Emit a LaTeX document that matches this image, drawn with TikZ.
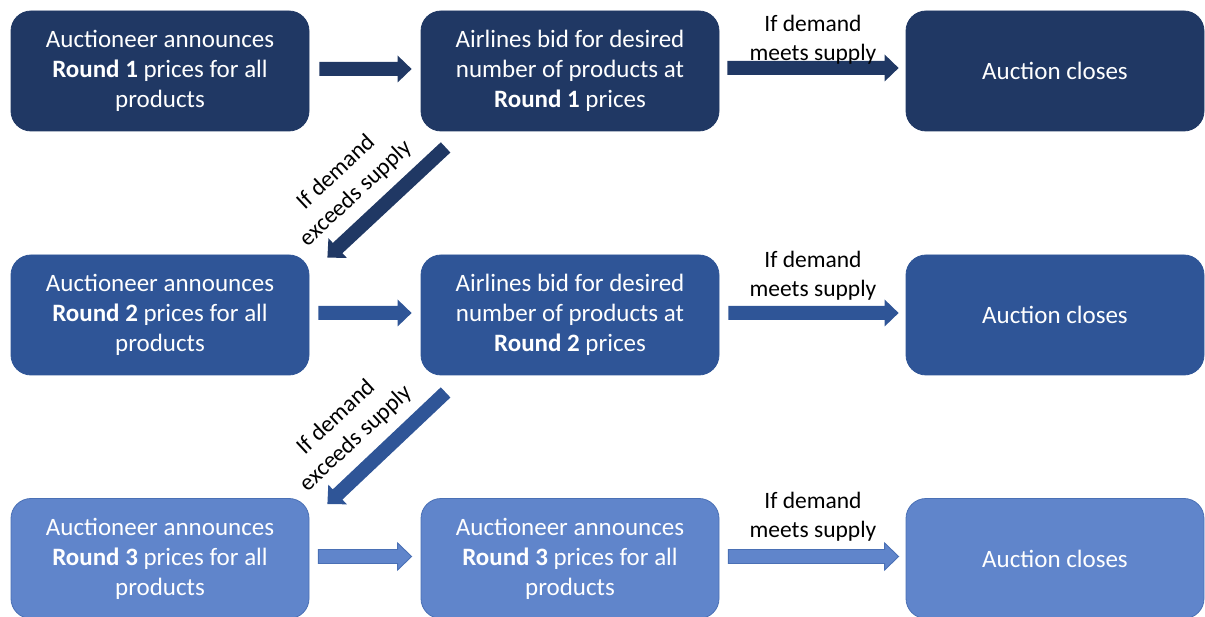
\documentclass[tikz,border=0pt]{standalone}
\usepackage{fontspec}
\setmainfont{Carlito}
\usetikzlibrary{calc}

\definecolor{navy}{HTML}{203864}
\definecolor{midblue}{HTML}{2F5597}
\definecolor{lightblue}{HTML}{6085CB}
\definecolor{lightedge}{HTML}{4A70B5}

% Block arrow from coordinate #2 to coordinate #3 (shaft 14pt, head 27pt wide, 14pt long)
\newcommand\blockarrow[3][]{%
  \coordinate (hb) at ($(#3)!14pt!(#2)$);
  \path[#1] ($(#2)!7pt!90:(#3)$) -- ($(hb)!7pt!-90:(#2)$) -- ($(hb)!13.5pt!-90:(#2)$)
    -- (#3) -- ($(hb)!13.5pt!90:(#2)$) -- ($(hb)!7pt!90:(#2)$)
    -- ($(#2)!7pt!-90:(#3)$) -- cycle;}

\begin{document}
\begin{tikzpicture}[x=1pt,y=1pt,
  box/.style={rounded corners=20pt, minimum width=298pt, minimum height=120pt,
    align=center, text=white, inner sep=0pt, line width=0.8pt,
    font=\fontsize{25}{30}\selectfont},
  lbl/.style={align=center, text=black, inner sep=0pt,
    font=\fontsize{23.5}{29}\selectfont},
  darkarrow/.style={fill=navy},
  midarrow/.style={fill=midblue},
  lightarrow/.style={fill=lightblue, draw=lightedge, line width=0.9pt}]
\useasboundingbox (0,0) rectangle (1205,-617);

% Round 1
\node[box, fill=navy, draw=navy] (a1) at (160,-71) {Auctioneer announces\\\textbf{Round 1} prices for all\\products};
\node[box, fill=navy, draw=navy] (b1) at (570,-71) {Airlines bid for desired\\number of products at\\\textbf{Round 1} prices};
\node[box, fill=navy, draw=navy] (c1) at (1055,-71) {Auction closes};

% Round 2
\node[box, fill=midblue, draw=midblue] (a2) at (160,-315) {Auctioneer announces\\\textbf{Round 2} prices for all\\products};
\node[box, fill=midblue, draw=midblue] (b2) at (570,-315) {Airlines bid for desired\\number of products at\\\textbf{Round 2} prices};
\node[box, fill=midblue, draw=midblue] (c2) at (1055,-315) {Auction closes};

% Round 3
\node[box, fill=lightblue, draw=lightedge] (a3) at (160,-558.5) {Auctioneer announces\\\textbf{Round 3} prices for all\\products};
\node[box, fill=lightblue, draw=lightedge] (b3) at (570,-558.5) {Auctioneer announces\\\textbf{Round 3} prices for all\\products};
\node[box, fill=lightblue, draw=lightedge] (c3) at (1055,-558.5) {Auction closes};

% Arrow end points
\coordinate (a1o) at ($(a1.east)+(10,2)$);  \coordinate (b1i) at ($(b1.west)+(-9,2)$);
\coordinate (b1o) at ($(b1.east)+(8,3)$);   \coordinate (c1i) at ($(c1.west)+(-7,3)$);
\coordinate (a2o) at ($(a2.east)+(9,2)$);   \coordinate (b2i) at ($(b2.west)+(-9,2)$);
\coordinate (b2o) at ($(b2.east)+(9,2)$);   \coordinate (c2i) at ($(c2.west)+(-7,2)$);
\coordinate (a3o) at ($(a3.east)+(9,2)$);   \coordinate (b3i) at ($(b3.west)+(-9,2)$);
\coordinate (b3o) at ($(b3.east)+(9,2)$);   \coordinate (c3i) at ($(c3.west)+(-7,2)$);
\coordinate (d1o) at ($(b1.south west)+(25,-16)$); \coordinate (d1i) at ($(a2.north east)+(18,-3)$);
\coordinate (d2o) at ($(b2.south west)+(25,-17)$); \coordinate (d2i) at ($(a3.north east)+(18,-6)$);

% Arrows
\blockarrow[darkarrow]{a1o}{b1i}
\blockarrow[darkarrow]{b1o}{c1i}
\blockarrow[darkarrow]{d1o}{d1i}
\blockarrow[midarrow]{a2o}{b2i}
\blockarrow[midarrow]{b2o}{c2i}
\blockarrow[midarrow]{d2o}{d2i}
\blockarrow[lightarrow]{a3o}{b3i}
\blockarrow[lightarrow]{b3o}{c3i}

% Labels
\node[lbl] (m1) at (813,-39.5) {If demand\\meets supply};
\node[lbl] (m2) at (813,-275.5) {If demand\\meets supply};
\node[lbl] (m3) at (813,-516.5) {If demand\\meets supply};
\node[lbl, rotate=43] (e1) at (346,-183) {If demand\\exceeds supply};
\node[lbl, rotate=43] (e2) at (346,-428) {If demand\\exceeds supply};
\end{tikzpicture}
\end{document}
